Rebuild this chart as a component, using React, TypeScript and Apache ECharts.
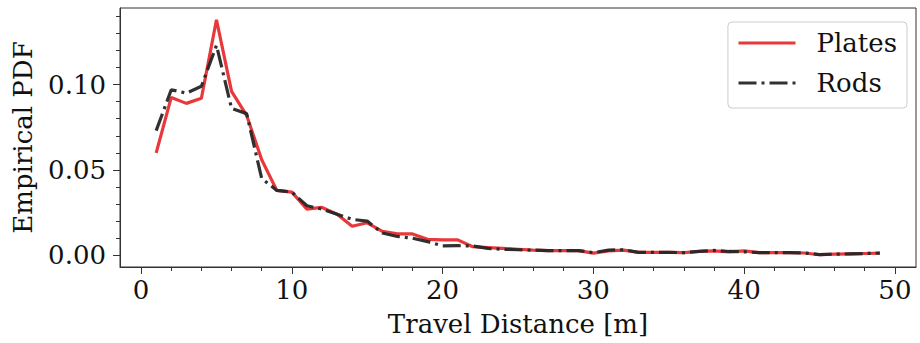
import React, { useEffect, useRef } from "react";
import * as echarts from "echarts";

const distances = [1,2,3,4,5,6,7,8,9,10,11,12,13,14,15,16,17,18,19,20,21,22,23,24,25,26,27,28,29,30,31,32,33,34,35,36,37,38,39,40,41,42,43,44,45,46,47,48,49];
const plates = [0.060,0.0925,0.089,0.092,0.138,0.096,0.082,0.056,0.038,0.037,0.027,0.028,0.024,0.017,0.019,0.014,0.0125,0.0125,0.0093,0.009,0.009,0.005,0.0045,0.004,0.0035,0.003,0.0027,0.0027,0.0027,0.0012,0.0025,0.003,0.0017,0.0017,0.0017,0.0015,0.0022,0.0025,0.002,0.0025,0.0015,0.0015,0.0015,0.0013,0.0003,0.0006,0.0008,0.001,0.0012];
const rods = [0.073,0.097,0.095,0.099,0.123,0.086,0.083,0.045,0.038,0.037,0.029,0.027,0.024,0.021,0.020,0.013,0.011,0.010,0.008,0.0055,0.0056,0.0054,0.004,0.0035,0.0032,0.003,0.0027,0.0027,0.0027,0.0015,0.003,0.0032,0.0017,0.0017,0.0017,0.0015,0.0023,0.0028,0.0022,0.002,0.0015,0.0015,0.0015,0.0013,0.0004,0.0006,0.0008,0.001,0.0012];

const xMajor = [0, 10, 20, 30, 40, 50];
const xMinor = [0,2,4,6,8,10,12,14,16,18,20,22,24,26,28,30,32,34,36,38,40,42,44,46,48,50];
const yMajor = [0, 0.05, 0.1];
const yMinor = [0,0.01,0.02,0.03,0.04,0.05,0.06,0.07,0.08,0.09,0.10,0.11,0.12,0.13,0.14];

const X_MIN = -1.4, X_MAX = 51.4;
const Y_MIN = -0.0069, Y_MAX = 0.1449;
const FONT = "DejaVu Serif";
const FS = 26;
const AX = "#333333";

export default function App() {
  const ref = useRef<HTMLDivElement>(null);
  useEffect(() => {
    if (!ref.current) return;
    const chart = echarts.init(ref.current, undefined, { renderer: "svg" });
    const baseX = { type: "value", min: X_MIN, max: X_MAX, splitLine: { show: false } };
    const baseY = { type: "value", min: Y_MIN, max: Y_MAX, splitLine: { show: false } };
    chart.setOption({
      animation: false,
      backgroundColor: "#ffffff",
      grid: { left: 120, right: 4, top: 8, bottom: 76, show: true, borderColor: AX, borderWidth: 1, backgroundColor: "transparent" },
      legend: {
        right: 13, top: 22, orient: "vertical", itemWidth: 57, itemHeight: 14, itemGap: 12,
        padding: [7, 10, 11, 9],
        borderColor: "#cccccc", borderWidth: 1, borderRadius: 4, backgroundColor: "#ffffff",
        itemStyle: { opacity: 0 },
        lineStyle: { width: 3.2 },
        textStyle: { fontFamily: FONT, fontSize: FS, color: "#111", lineHeight: 28, padding: [0, 0, 0, 16] },
        data: ["Plates", "Rods"],
      },
      xAxis: [
        {
          ...baseX,
          name: "Travel Distance [m]", nameLocation: "middle", nameGap: 44,
          nameTextStyle: { fontFamily: FONT, fontSize: FS, color: "#111" },
          axisLine: { show: true, onZero: false, lineStyle: { color: AX, width: 1 } },
          axisTick: { show: true, inside: false, length: 7, customValues: xMajor, lineStyle: { color: AX, width: 1 } },
          axisLabel: { show: true, customValues: xMajor, margin: 10, fontFamily: FONT, fontSize: FS, color: "#111" },
        },
        {
          ...baseX,
          position: "bottom",
          axisLine: { show: false, onZero: false },
          axisTick: { show: true, inside: false, length: 4, customValues: xMinor, lineStyle: { color: AX, width: 1 } },
          axisLabel: { show: false },
        },
      ],
      yAxis: [
        {
          ...baseY,
          name: "Empirical PDF", nameLocation: "middle", nameGap: 84,
          nameTextStyle: { fontFamily: FONT, fontSize: FS, color: "#111" },
          axisLine: { show: true, onZero: false, lineStyle: { color: AX, width: 1 } },
          axisTick: { show: true, inside: false, length: 7, customValues: yMajor, lineStyle: { color: AX, width: 1 } },
          axisLabel: { show: true, customValues: yMajor, margin: 14, fontFamily: FONT, fontSize: FS, color: "#111", formatter: (v: number) => v.toFixed(2) },
        },
        {
          ...baseY,
          position: "left",
          axisLine: { show: false, onZero: false },
          axisTick: { show: true, inside: false, length: 4, customValues: yMinor, lineStyle: { color: AX, width: 1 } },
          axisLabel: { show: false },
        },
      ],
      series: [
        {
          name: "Plates", type: "line", symbol: "none", xAxisIndex: 0, yAxisIndex: 0,
          data: distances.map((d, i) => [d, plates[i]]),
          lineStyle: { color: "#e8383b", width: 3.2 }, itemStyle: { color: "#e8383b" }, z: 2,
        },
        {
          name: "Rods", type: "line", symbol: "none", xAxisIndex: 0, yAxisIndex: 0,
          data: distances.map((d, i) => [d, rods[i]]),
          lineStyle: { color: "#262626", width: 3.2, type: [18, 5, 3, 5], opacity: 0.95 }, itemStyle: { color: "#262626" }, z: 3,
        },
      ],
    });
    return () => chart.dispose();
  }, []);
  return <div ref={ref} style={{ width: 920, height: 343, position: "absolute", left: 0, top: 0 }} />;
}
